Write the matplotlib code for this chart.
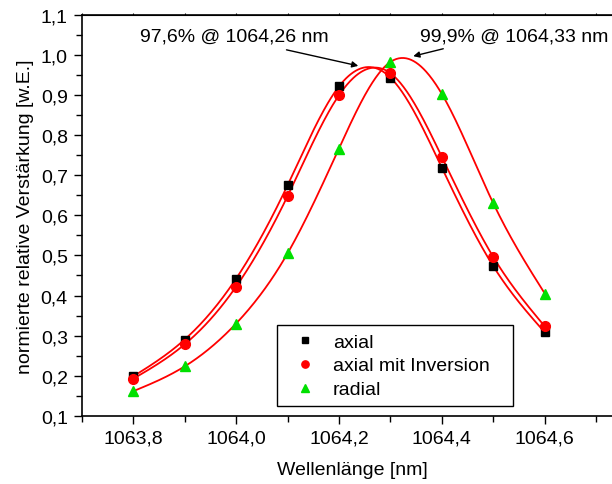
import numpy as np
import matplotlib
matplotlib.use('Agg')
import matplotlib.pyplot as plt
from matplotlib.ticker import MultipleLocator, FuncFormatter

plt.rcParams['font.family'] = ['Liberation Sans', 'DejaVu Sans']
plt.rcParams['font.size'] = 14

wavelength = [1063.8, 1063.9, 1064.0, 1064.1, 1064.2, 1064.3, 1064.4, 1064.5, 1064.6]
axial = [0.198, 0.290, 0.442, 0.675, 0.922, 0.944, 0.719, 0.473, 0.308]
axial_inv = [0.192, 0.278, 0.422, 0.648, 0.900, 0.955, 0.746, 0.496, 0.323]
radial = [0.161, 0.223, 0.330, 0.505, 0.767, 0.983, 0.903, 0.630, 0.405]

labels = ['axial', 'axial mit Inversion', 'radial']
note_left = '97,6% @ 1064,26 nm'
note_right = '99,9% @ 1064,33 nm'


def spline_line(x, y, xs):
    """Natuerlicher kubischer Spline durch die Messpunkte (Spline-Verbindung)."""
    x = np.asarray(x, float)
    y = np.asarray(y, float)
    n = len(x)
    h = np.diff(x)
    M = np.zeros((n, n))
    r = np.zeros(n)
    M[0, 0] = M[-1, -1] = 1
    for i in range(1, n - 1):
        M[i, i - 1] = h[i - 1]
        M[i, i] = 2 * (h[i - 1] + h[i])
        M[i, i + 1] = h[i]
        r[i] = 6 * ((y[i + 1] - y[i]) / h[i] - (y[i] - y[i - 1]) / h[i - 1])
    m = np.linalg.solve(M, r)
    k = np.clip(np.searchsorted(x, xs) - 1, 0, n - 2)
    t0 = x[k + 1] - xs
    t1 = xs - x[k]
    hk = h[k]
    return (m[k] * t0 ** 3 / (6 * hk) + m[k + 1] * t1 ** 3 / (6 * hk)
            + (y[k] / hk - m[k] * hk / 6) * t0 + (y[k + 1] / hk - m[k + 1] * hk / 6) * t1)


fig = plt.figure(figsize=(6.12, 4.85), dpi=100)
ax = fig.add_axes([0.1335, 0.1408, 0.908, 0.826])

xs = np.linspace(wavelength[0], wavelength[-1], 500)
for ys in (axial, axial_inv, radial):
    ax.plot(xs, spline_line(wavelength, ys, xs), color='red', lw=1.3, zorder=2)

ax.plot(wavelength, axial, 's', color='black', ms=6, ls='none', label=labels[0], zorder=3)
ax.plot(wavelength, axial_inv, 'o', color='red', ms=7, ls='none', label=labels[1], zorder=4)
ax.plot(wavelength, radial, '^', color='#00e000', ms=7.5, ls='none', label=labels[2], zorder=3)

ax.set_xlim(1063.7, 1064.78)
ax.set_ylim(0.1, 1.1)
ax.xaxis.set_major_locator(MultipleLocator(0.2))
ax.xaxis.set_minor_locator(MultipleLocator(0.1))
ax.yaxis.set_major_locator(MultipleLocator(0.1))
ax.yaxis.set_minor_locator(MultipleLocator(0.05))
comma = FuncFormatter(lambda v, p: f'{v:.1f}'.replace('.', ','))
ax.xaxis.set_major_formatter(comma)
ax.yaxis.set_major_formatter(comma)
ax.tick_params(which='major', direction='out', length=6, width=1, pad=4)
ax.tick_params(which='minor', direction='out', length=4, width=1)
for s in ax.spines.values():
    s.set_linewidth(1.2)

# kleine Striche oben
top = ax.secondary_xaxis('top')
top.xaxis.set_major_locator(MultipleLocator(0.1))
top.tick_params(direction='out', length=1.5, labeltop=False)

ax.set_xlabel('Wellenlänge [nm]')
ax.set_ylabel('normierte relative Verstärkung [w.E.]')
ax.xaxis.set_label_coords(0.487, -0.113)
ax.yaxis.set_label_coords(-0.086, 0.5)

ax.text(1063.996, 1.047, note_left, ha='center', va='center')
ax.text(1064.541, 1.047, note_right, ha='center', va='center')
arrow = dict(arrowstyle='-|>', color='black', lw=1, mutation_scale=9, shrinkA=0, shrinkB=0)
ax.annotate('', xy=(1064.2375, 0.9733), xytext=(1064.098, 1.0133), arrowprops=arrow)
ax.annotate('', xy=(1064.3444, 0.9975), xytext=(1064.4027, 1.016), arrowprops=arrow)

leg = ax.legend(loc='lower left', bbox_to_anchor=(0.352, 0.024, 0.425, 0.2), mode='expand',
                borderaxespad=0, borderpad=0.4, handlelength=2.0, handletextpad=0.45,
                labelspacing=0.32, markerscale=0.75, fancybox=False, edgecolor='black',
                framealpha=1)
leg.get_frame().set_linewidth(1)

fig.savefig('out.png', dpi=100)
